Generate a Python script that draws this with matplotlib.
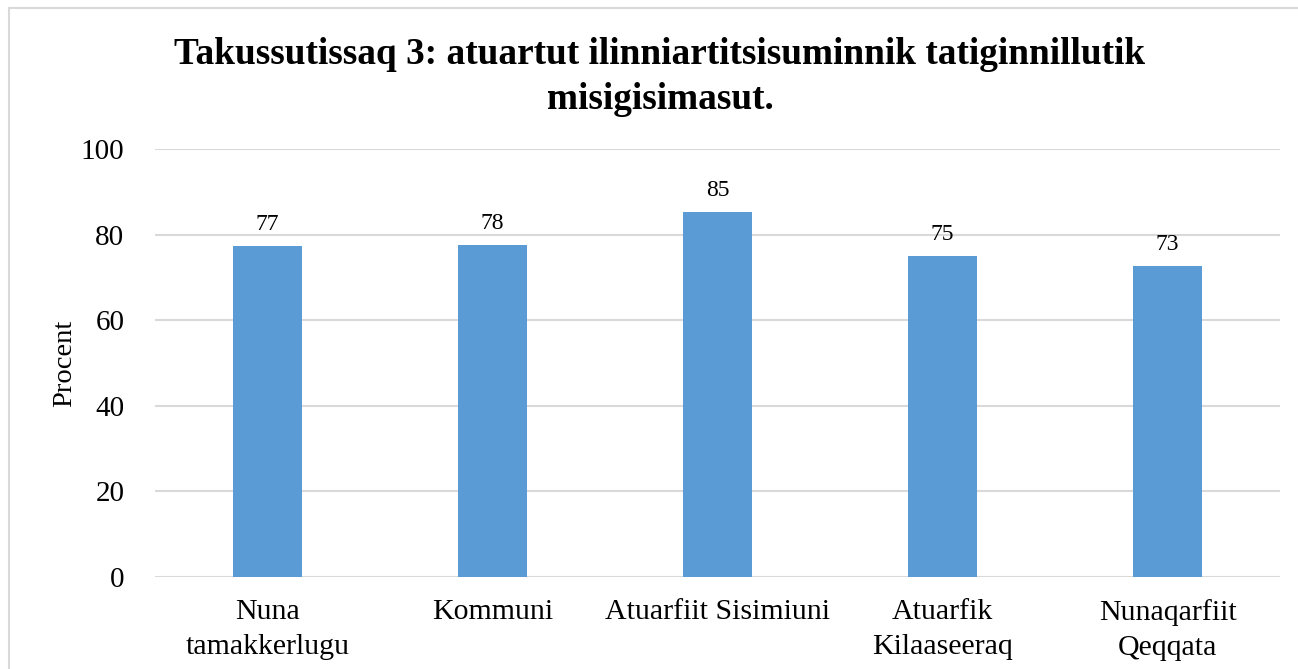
import matplotlib
matplotlib.use("Agg")
import matplotlib.pyplot as plt
from matplotlib.patches import Rectangle

categories = ["Nuna\ntamakkerlugu", "Kommuni", "Atuarfiit Sisimiuni", "Atuarfik\nKilaaseeraq", "Nunaqarfiit\nQeqqata"]
values = [77.4, 77.6, 85.3, 75.0, 72.7]
yticks = [0, 20, 40, 60, 80, 100]
title = "Takussutissaq 3: atuartut ilinniartitsisuminnik tatiginnillutik\nmisigisimasut."
ylabel = "Procent"

plt.rcParams['font.family'] = ['Liberation Serif', 'DejaVu Serif']

fig = plt.figure(figsize=(12.98, 6.69), dpi=100)
ax = fig.add_axes([155/1298, 1-577/669, 1125/1298, 428/669])

grid_c = "#d9d9d9"
x = list(range(len(categories)))
bars = ax.bar(x, values, width=0.31, color="#5b9bd5", zorder=3)
for xi, v in zip(x, values):
    ax.annotate(f"{round(v):d}", (xi, v), xytext=(0, 8), textcoords="offset points",
                ha="center", va="bottom", fontsize=17, color="#000000")

ax.set_xlim(-0.5, len(categories) - 0.5)
ax.set_ylim(0, 100)
ax.set_yticks(yticks)
ax.set_yticklabels([str(t) for t in yticks], fontsize=21)
ax.set_xticks(x)
ax.set_xticklabels(categories, fontsize=21.5, linespacing=1.42)
ax.tick_params(axis="both", length=0)
ax.tick_params(axis="x", pad=16)
ax.tick_params(axis="y", pad=22)
ax.yaxis.grid(True, color=grid_c, linewidth=1.5, zorder=0)
for s in ax.spines.values():
    s.set_visible(False)
ax.set_ylabel(ylabel, fontsize=20.5, labelpad=3)

fig.text(660/1298, 1-77/669, title, ha="center", va="center", fontsize=26.8,
         fontweight="bold", linespacing=1.35)

fig.add_artist(Rectangle((9/1298, -0.1), 2, 1.1 - 8/669, transform=fig.transFigure,
                         fill=False, edgecolor=grid_c, linewidth=1.5))

fig.savefig("out.png", dpi=100)
